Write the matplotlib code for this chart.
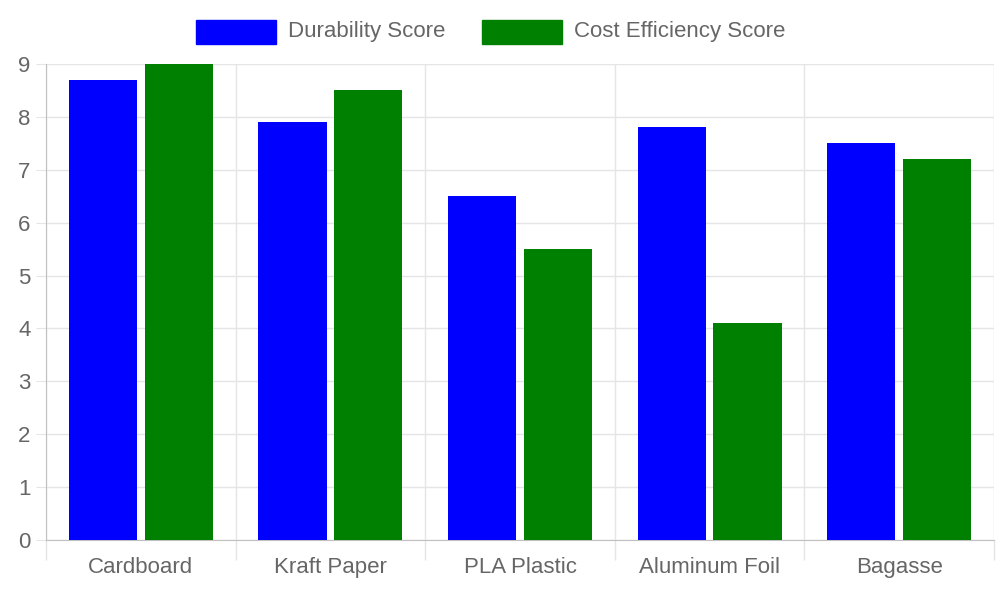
import matplotlib
matplotlib.use("Agg")
import matplotlib.pyplot as plt
import numpy as np

categories = ["Cardboard", "Kraft Paper", "PLA Plastic", "Aluminum Foil", "Bagasse"]
durability = [8.7, 7.9, 6.5, 7.8, 7.5]
cost_eff = [9.0, 8.5, 5.5, 4.1, 7.2]
series_names = ["Durability Score", "Cost Efficiency Score"]
colors = ["#0000ff", "#008000"]

plt.rcParams['font.family'] = ['Liberation Sans', 'DejaVu Sans']
fig = plt.figure(figsize=(10, 6), dpi=100)
ax = fig.add_axes([0.046, 0.1, 0.948, 476/600])
x = np.arange(len(categories))
w = 0.36
ax.bar(x - 0.2, durability, w, color=colors[0], zorder=3)
ax.bar(x + 0.2, cost_eff, w, color=colors[1], zorder=3)
ax.set_xlim(-0.5, len(categories) - 0.5)
ax.set_ylim(0, 9)
ax.set_yticks(range(0, 10))
ax.set_xticks(x)
ax.set_xticklabels(categories)
ax.set_xticks(np.arange(-0.5, len(categories)), minor=True)
grid_c = "#e5e5e5"
ax.grid(axis='y', color=grid_c, lw=1, zorder=0)
ax.grid(axis='x', which='minor', color=grid_c, lw=1, zorder=0)
ax.tick_params(axis='x', which='major', length=0, labelsize=16, labelcolor="#666666", pad=12)
ax.tick_params(axis='x', which='minor', length=14.4, color=grid_c, width=1)
ax.tick_params(axis='y', length=7, color=grid_c, labelsize=16, labelcolor="#666666", pad=4)
for s in ['top', 'right']:
    ax.spines[s].set_visible(False)
for s in ['left', 'bottom']:
    ax.spines[s].set_color("#c0c0c0")

# legend
for i, (name, c) in enumerate(zip(series_names, colors)):
    x0 = [196, 482][i]
    fig.patches.append(plt.Rectangle((x0/1000, 1 - 44/600), 0.08, 24/600, color=c, transform=fig.transFigure))
    fig.text((x0 + 92)/1000, 1 - 32/600, name, fontsize=16, color="#666666", va='center', ha='left')

fig.savefig("out.png", dpi=100)
